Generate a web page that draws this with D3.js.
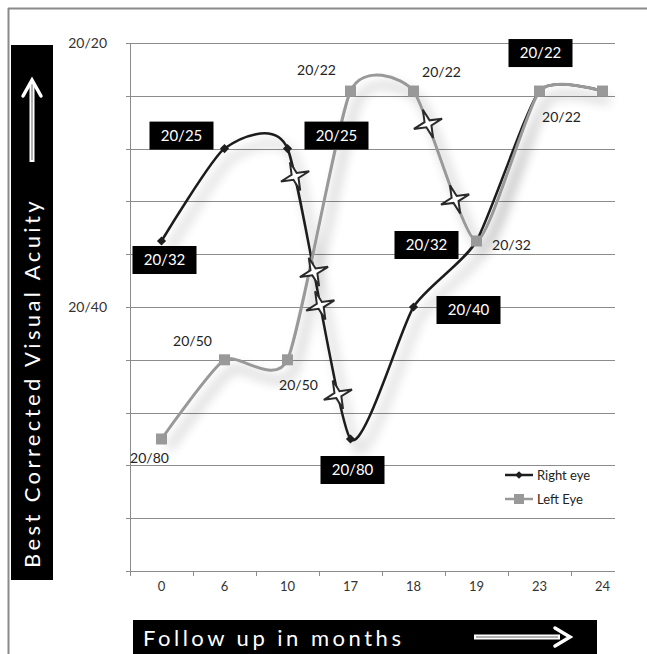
<!DOCTYPE html>
<html><head><meta charset="utf-8">
<script src="https://cdn.jsdelivr.net/npm/d3@7"></script>
<style>
html,body{margin:0;padding:0;background:#fff;}
svg{display:block;font-family:Lato,"Open Sans",sans-serif;}
</style></head>
<body>
<svg id="chart" width="647" height="654"></svg>
<script>
// ---- data ----
const months = ["0","6","10","17","18","19","23","24"];
const rightEye = [0.625, 0.8, 0.8, 0.25, 0.5, 0.625, 0.909, 0.909];
const leftEye  = [0.25, 0.4, 0.4, 0.909, 0.909, 0.625, 0.909, 0.909];
const rightLabels = ["20/32","20/25","20/25","20/80","20/40","20/32","20/22",null];
const leftLabels  = ["20/80","20/50","20/50","20/22","20/22","20/32","20/22",null];
const yTickValues = [1.0, 0.5];
const yTickLabels = ["20/20","20/40"];
const seriesNames = ["Right eye","Left Eye"];
// star markers: fractional position along the category index
const rightStars = [2.12, 2.42, 2.52, 2.80];
const leftStars  = [4.23, 4.66];

// ---- layout ----
const svg = d3.select("#chart");
const pLeft = 130, pTop = 43, pBottom = 571, gridRight = 615;
const x = d3.scaleBand().domain(months).range([pLeft, pLeft + 63*8]).paddingInner(0).paddingOuter(0);
const y = d3.scaleLinear().domain([0,1]).range([pBottom, pTop]);
const cx = d => x(d) + x.bandwidth()/2;
const fx = i => cx(months[0]) + i * x.step();

const defs = svg.append("defs");
const f = defs.append("filter").attr("id","shadow").attr("x","-20%").attr("y","-20%").attr("width","140%").attr("height","140%");
f.append("feGaussianBlur").attr("in","SourceAlpha").attr("stdDeviation",6).attr("result","b");
f.append("feOffset").attr("in","b").attr("dx",7).attr("dy",10).attr("result","o");
f.append("feComponentTransfer").attr("in","o").attr("result","s")
  .append("feFuncA").attr("type","linear").attr("slope",0.4);
const m = f.append("feMerge");
m.append("feMergeNode").attr("in","s");
m.append("feMergeNode").attr("in","SourceGraphic");

// outer frame
svg.append("line").attr("x1",8).attr("x2",647).attr("y1",8.5).attr("y2",8.5).attr("stroke","#8a8a8a").attr("stroke-width",2);
svg.append("line").attr("x1",8.5).attr("x2",8.5).attr("y1",8).attr("y2",654).attr("stroke","#8a8a8a").attr("stroke-width",2);

// gridlines
const gridVals = d3.range(0, 11).map(i => i/10);
svg.append("g").selectAll("line").data(gridVals).join("line")
  .attr("x1", pLeft-4).attr("x2", gridRight)
  .attr("y1", d => Math.round(y(d))+0.5).attr("y2", d => Math.round(y(d))+0.5)
  .attr("stroke", "#8c8c8c").attr("stroke-width", 1);
// y axis line
svg.append("line").attr("x1",pLeft+0.5).attr("x2",pLeft+0.5).attr("y1",pTop).attr("y2",pBottom).attr("stroke","#8c8c8c");
// x axis ticks
const tickXs = months.map(d => x(d)).concat([x(months[months.length-1]) + x.step()]).filter(v => v <= gridRight);
svg.append("g").selectAll("line").data(tickXs).join("line")
  .attr("x1", d => Math.round(d)+0.5).attr("x2", d => Math.round(d)+0.5)
  .attr("y1", pBottom).attr("y2", pBottom+5).attr("stroke","#8c8c8c");
// x tick labels
svg.append("g").selectAll("text").data(months).join("text")
  .attr("x", d => cx(d)).attr("y", pBottom+20).attr("text-anchor","middle")
  .attr("font-size",13).attr("fill","#333").text(d => d);
// y tick labels
svg.append("g").selectAll("text").data(yTickValues).join("text")
  .attr("x", 107).attr("y", d => y(d)+5).attr("text-anchor","end")
  .attr("font-size",14).attr("fill","#333").text((d,i) => yTickLabels[i]);

// lines
const line = d3.line().x((d,i) => cx(months[i])).y(d => y(d)).curve(d3.curveCardinal.tension(0.4));
const g = svg.append("g").attr("filter","url(#shadow)");
const rPath = g.append("path").datum(rightEye).attr("d", line).attr("fill","none").attr("stroke","#1e1e1e").attr("stroke-width",2.5);
const lPath = g.append("path").datum(leftEye).attr("d", line).attr("fill","none").attr("stroke","#999").attr("stroke-width",3);

// markers
svg.append("g").selectAll("path").data(rightEye).join("path")
  .attr("transform",(d,i) => `translate(${cx(months[i])},${y(d)}) rotate(45)`)
  .attr("d", d3.symbol(d3.symbolSquare, 42)).attr("fill","#1e1e1e");
svg.append("g").selectAll("rect").data(leftEye).join("rect")
  .attr("x",(d,i) => cx(months[i])-5.5).attr("y", d => y(d)-5.5)
  .attr("width",11).attr("height",11).attr("fill","#999");

// stars placed on the curves
function pointAtX(path, px){
  const node = path.node(), L = node.getTotalLength();
  let lo = 0, hi = L;
  for (let k=0;k<40;k++){ const mid=(lo+hi)/2; if (node.getPointAtLength(mid).x < px) lo = mid; else hi = mid; }
  return node.getPointAtLength(lo);
}
const starPts = [];
for (let k=0;k<8;k++){ const a = k*Math.PI/4; const r = k%2===0 ? 15 : 3.8; starPts.push([r*Math.sin(a), -r*Math.cos(a)]); }
const starD = "M" + starPts.map(p => p.join(",")).join("L") + "Z";
function drawStars(path, arr){
  svg.append("g").selectAll("path").data(arr).join("path")
    .attr("transform", d => { const p = pointAtX(path, fx(d)); return `translate(${p.x},${p.y}) rotate(-20)`; })
    .attr("d", starD).attr("fill","#fff").attr("stroke","#2a2a2a").attr("stroke-width",2).attr("stroke-linejoin","miter");
}
drawStars(rPath, rightStars);
drawStars(lPath, leftStars);

// data labels
const rOff = [[3,19],[-43,-13],[49,-13],[2,31],[55,3],[-50,4],[1,-38],[0,0]];
const lOff = [[-12,19],[-32,-19],[11,25],[-34,-21],[28,-19],[35,4],[22,26],[0,0]];
const rl = svg.append("g");
rightLabels.forEach((t,i) => {
  if (!t) return;
  const bx = cx(months[i]) + rOff[i][0], by = y(rightEye[i]) + rOff[i][1];
  rl.append("rect").attr("x", bx-32).attr("y", by-14).attr("width",64).attr("height",28).attr("fill","#000");
  rl.append("text").attr("x", bx).attr("y", by+5).attr("text-anchor","middle").attr("font-size",15).attr("fill","#fff").text(t);
});
const ll = svg.append("g");
leftLabels.forEach((t,i) => {
  if (!t) return;
  ll.append("text").attr("x", cx(months[i]) + lOff[i][0]).attr("y", y(leftEye[i]) + lOff[i][1] + 5)
    .attr("text-anchor","middle").attr("font-size",14).attr("fill","#222").text(t);
});

// legend
const lg = svg.append("g");
[["#1e1e1e","diamond"],["#999","square"]].forEach((s,i) => {
  const ly = 475 + i*24;
  lg.append("line").attr("x1",505).attr("x2",533).attr("y1",ly).attr("y2",ly).attr("stroke",s[0]).attr("stroke-width",2.5);
  if (s[1]==="diamond") lg.append("path").attr("transform",`translate(519,${ly}) rotate(45)`).attr("d", d3.symbol(d3.symbolSquare,30)).attr("fill",s[0]);
  else lg.append("rect").attr("x",514).attr("y",ly-5).attr("width",10).attr("height",10).attr("fill",s[0]);
  lg.append("text").attr("x",537).attr("y",ly+5).attr("font-size",13).attr("fill","#222").text(seriesNames[i]);
});

// y axis title box
svg.append("rect").attr("x",11).attr("y",45).attr("width",42).attr("height",535).attr("fill","#000");
svg.append("text").attr("transform","translate(40,568) rotate(-90)").attr("font-size",22).attr("fill","#fff")
  .attr("letter-spacing","3.4px").text("Best Corrected Visual Acuity");
// up arrow
const ua = svg.append("g");
ua.append("line").attr("x1",32).attr("x2",32).attr("y1",82).attr("y2",162).attr("stroke","#fff").attr("stroke-width",5);
ua.append("line").attr("x1",32).attr("x2",32).attr("y1",84).attr("y2",160).attr("stroke","#999").attr("stroke-width",1.5);
ua.append("path").attr("d","M23,96 L32,80 L41,96").attr("fill","none").attr("stroke","#fff").attr("stroke-width",3.5).attr("stroke-linecap","round");

// x axis title box
svg.append("rect").attr("x",133).attr("y",620).attr("width",464).attr("height",40).attr("fill","#000");
svg.append("text").attr("x",143).attr("y",646).attr("font-size",22).attr("fill","#fff")
  .attr("letter-spacing","3.5px").text("Follow up in months");
const ra = svg.append("g");
ra.append("line").attr("x1",474).attr("x2",560).attr("y1",637).attr("y2",637).attr("stroke","#fff").attr("stroke-width",5);
ra.append("line").attr("x1",476).attr("x2",558).attr("y1",637).attr("y2",637).attr("stroke","#999").attr("stroke-width",1.5);
ra.append("path").attr("d","M555,628 L570,637 L555,646").attr("fill","none").attr("stroke","#fff").attr("stroke-width",3.5).attr("stroke-linecap","round");
</script>
</body></html>
